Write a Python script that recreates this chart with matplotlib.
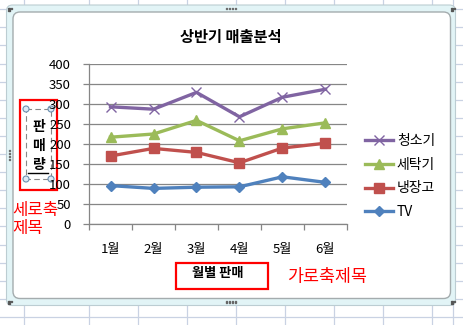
import matplotlib
matplotlib.use("Agg")
import matplotlib.pyplot as plt
from matplotlib.patches import FancyBboxPatch, Rectangle, Circle

plt.rcParams['font.family'] = ['Noto Sans CJK KR', 'DejaVu Sans']

months = ["1월", "2월", "3월", "4월", "5월", "6월"]
series_names = ["TV", "냉장고", "세탁기", "청소기"]
tv = [96, 89, 92, 93, 118, 104]
fridge = [170, 189, 179, 153, 190, 202]
washer = [217, 225, 259, 208, 238, 253]
cleaner = [293, 287, 329, 268, 317, 337]
y_ticks = [0, 50, 100, 150, 200, 250, 300, 350, 400]

title = "상반기 매출분석"
x_title = "월별 판매"
y_title_chars = ["판", "매", "량"]

W, H = 464, 325
fig = plt.figure(figsize=(W / 100, H / 100), dpi=100)

# background axes in pixel coordinates
bg = fig.add_axes([0, 0, 1, 1])
bg.set_xlim(0, W)
bg.set_ylim(H, 0)
bg.axis("off")

grid_c = "#C9D2E3"
for x in [24, 89, 138, 187, 236, 285, 334, 383, 432, 453]:
    bg.plot([x, x], [0, H], color=grid_c, lw=0.9, zorder=0)
y = 317
while y > 0:
    bg.plot([0, W], [y, y], color=grid_c, lw=0.9, zorder=0)
    y -= 18.1

# chart frame
outer = FancyBboxPatch((6.5, 5), 449, 300.5, boxstyle="round,pad=0,rounding_size=6",
                       facecolor="#E2F4F6", edgecolor="#BCCDD2", lw=0.8, zorder=1)
bg.add_patch(outer)
inner = FancyBboxPatch((13, 12), 437.5, 286.5, boxstyle="round,pad=0,rounding_size=7",
                       facecolor="white", edgecolor="#A4ACAE", lw=1.0, zorder=2)
bg.add_patch(inner)

# handles (dots)
def dots(cx, cy, horizontal=True, n=4):
    for i in range(n):
        if horizontal:
            bg.add_patch(Rectangle((cx - 5 + i * 3, cy - 0.7), 1.4, 1.4, color="#666666", zorder=3))
        else:
            bg.add_patch(Rectangle((cx - 0.7, cy - 5 + i * 3), 1.4, 1.4, color="#666666", zorder=3))

dots(231, 8.5)
dots(231, 302)
dots(9.5, 155, horizontal=False)
for (cx, cy) in [(10, 9), (453, 9), (10, 302), (453, 302)]:
    for dx in (0, 2.5):
        for dy in (0, 2.5):
            if not (dx == 2.5 and dy == 2.5):
                bg.add_patch(Rectangle((cx - 1.5 + dx, cy - 1.5 + dy), 1.3, 1.3, color="#555555", zorder=3))

# title
bg.text(231, 37, title, ha="center", va="center", fontsize=11, fontweight="bold", color="black", zorder=5)

# y axis title box
bg.add_patch(Rectangle((20, 100), 37, 90, fill=False, edgecolor="#FF0000", lw=1.6, zorder=5))
bg.add_patch(Rectangle((26, 109), 25, 70, fill=False, edgecolor="#888888", lw=0.8, ls=(0, (5, 3)), zorder=5))
for (cx, cy) in [(26, 109), (51, 109), (26, 179), (51, 179)]:
    bg.add_patch(Circle((cx, cy), 3, facecolor="#DCEAF5", edgecolor="#6A8EAF", lw=0.8, zorder=6))
for ch, cy in zip(y_title_chars, [127, 146, 165]):
    bg.text(38.5, cy, ch, ha="center", va="center", fontsize=10, fontweight="bold", zorder=6)
bg.plot([28, 48.5], [172.5, 172.5], color="black", lw=1.0, zorder=6)
bg.text(12, 211, "세로축", ha="left", va="center", fontsize=12, color="#FF0000", zorder=6)
bg.text(12, 229, "제목", ha="left", va="center", fontsize=12, color="#FF0000", zorder=6)

# x axis title box
bg.add_patch(Rectangle((176, 263), 92, 26, fill=False, edgecolor="#FF0000", lw=1.6, zorder=5))
bg.text(218, 272.5, x_title, ha="center", va="center", fontsize=9.5, fontweight="bold", zorder=6)
bg.text(287, 277, "가로축제목", ha="left", va="center", fontsize=12.5, color="#FF0000", zorder=6)

# chart axes
left, right, top, bottom = 89, 347, 64, 224
ax = fig.add_axes([left / W, 1 - bottom / H, (right - left) / W, (bottom - top) / H])
ax.set_facecolor("none")
ax.set_zorder(4)

xs = list(range(len(months)))
styles = [
    (tv, "#4F81BD", "D", 5.5),
    (fridge, "#C0504D", "s", 7),
    (washer, "#9BBB59", "^", 7.5),
    (cleaner, "#8064A2", "x", 7.5),
]
handles = []
for (vals, col, mk, ms), name in zip(styles, series_names):
    if mk == "x":
        (ln,) = ax.plot(xs, vals, color=col, lw=2.4, marker=mk, ms=ms, mew=1.0, mec=col)
    else:
        (ln,) = ax.plot(xs, vals, color=col, lw=2.4, marker=mk, ms=ms, mec=col, mfc=col)
    handles.append(ln)

ax.set_xlim(-0.5, len(months) - 0.5)
ax.set_ylim(0, 400)
ax.set_yticks(y_ticks)
ax.yaxis.grid(True, color="#868686", lw=0.9)
ax.set_axisbelow(True)
ax.set_xticks([i - 0.5 for i in range(len(months) + 1)])
ax.set_xticklabels([])
ax.set_xticks(xs, minor=True)
ax.set_xticklabels(months, minor=True)
ax.tick_params(axis="x", which="major", length=4, color="#868686", width=0.9)
ax.tick_params(axis="x", which="minor", length=0, pad=14, labelsize=9.5)
ax.tick_params(axis="y", length=4, color="#868686", width=0.9, pad=9, labelsize=9.5)
for s in ["top", "right"]:
    ax.spines[s].set_visible(False)
for s in ["left", "bottom"]:
    ax.spines[s].set_color("#868686")
    ax.spines[s].set_linewidth(0.9)

leg = ax.legend(handles[::-1], series_names[::-1], loc="upper left",
                bbox_to_anchor=(365 / W, 1 - 134 / H), bbox_transform=fig.transFigure,
                frameon=False, fontsize=10, handlelength=2.0, labelspacing=0.7,
                handletextpad=0.3, borderaxespad=0, borderpad=0)

fig.savefig("out.png", dpi=100)
